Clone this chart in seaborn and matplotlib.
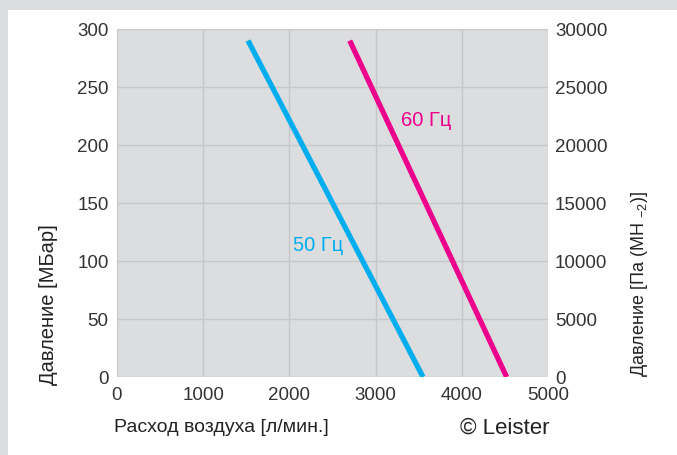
import matplotlib
matplotlib.use("Agg")
import matplotlib.pyplot as plt
import seaborn as sns
import pandas as pd
from matplotlib.patches import Rectangle

# values
flow_50 = [1520, 3550]
press_50 = [290, 0]
flow_60 = [2700, 4520]
press_60 = [290, 0]
x_ticks = [0, 1000, 2000, 3000, 4000, 5000]
y_ticks = [0, 50, 100, 150, 200, 250, 300]
y2_ticks = [0, 5000, 10000, 15000, 20000, 25000, 30000]

blue = '#00aeef'
pink = '#ec008c'
panel = '#dcdddf'
gridc = '#c6c7c9'
txt = '#333333'

sns.set_theme(style='white')
plt.rcParams['font.family'] = ['Liberation Sans', 'DejaVu Sans']
plt.rcParams['mathtext.fontset'] = 'custom'
plt.rcParams['mathtext.rm'] = 'Liberation Sans'

df = pd.DataFrame({
    'flow': flow_50 + flow_60,
    'pressure': press_50 + press_60,
    'freq': ['50'] * len(flow_50) + ['60'] * len(flow_60),
})

fig = plt.figure(figsize=(6.77, 4.55), dpi=100)
fig.patch.set_facecolor('white')
# gray frame strips top and left
fig.patches.append(Rectangle((0, 1 - 10 / 455), 1, 10 / 455, transform=fig.transFigure,
                             facecolor=panel, edgecolor='none', zorder=0))
fig.patches.append(Rectangle((0, 0), 8 / 677, 1, transform=fig.transFigure,
                             facecolor=panel, edgecolor='none', zorder=0))

ax = fig.add_axes([117 / 677, 1 - 377 / 455, 431 / 677, 348 / 455])
ax.set_facecolor(panel)
sns.lineplot(data=df, x='flow', y='pressure', hue='freq', palette={'50': blue, '60': pink},
             linewidth=3.8, legend=False, ax=ax, solid_capstyle='butt', zorder=3)

ax.set_xlim(0, 5000)
ax.set_ylim(0, 300)
ax.set_xticks(x_ticks)
ax.set_yticks(y_ticks)
ax.grid(True, color=gridc, linewidth=1)
ax.set_axisbelow(True)
for s in ax.spines.values():
    s.set_visible(False)
ax.tick_params(axis='x', length=0, pad=7, labelsize=13.5, labelcolor=txt)
ax.tick_params(axis='y', length=0, pad=6, labelsize=13.5, labelcolor=txt)
ax.set_xlabel('')
ax.set_ylabel('')

ax2 = ax.twinx()
ax2.set_ylim(0, 30000)
ax2.set_yticks(y2_ticks)
for s in ax2.spines.values():
    s.set_visible(False)
ax2.tick_params(axis='y', length=0, pad=5, labelsize=13.5, labelcolor=txt)
ax2.grid(False)

ax.text(3300, 221, '60 Гц', color=pink, fontsize=14.5, ha='left', va='center', zorder=4)
ax.text(2040, 113, '50 Гц', color=blue, fontsize=14.5, ha='left', va='center', zorder=4)

fig.text(114 / 677, 1 - 428 / 455, 'Расход воздуха [л/мин.]', fontsize=14, color='#222222',
         ha='left', va='center')
fig.text(550 / 677, 1 - 428 / 455, '© Leister', fontsize=16, color='#222222',
         ha='right', va='center')
fig.text(49 / 677, 1 - 385 / 455, 'Давление [МБар]', fontsize=14.5, color='#222222',
         rotation=90, ha='center', va='bottom')
fig.text(640 / 677, 1 - 377 / 455, r'Давление [Па (МН $_{\mathregular{-2}}$)]', fontsize=13,
         color='#222222', rotation=90, ha='center', va='bottom')

fig.savefig('out.png', dpi=100)
